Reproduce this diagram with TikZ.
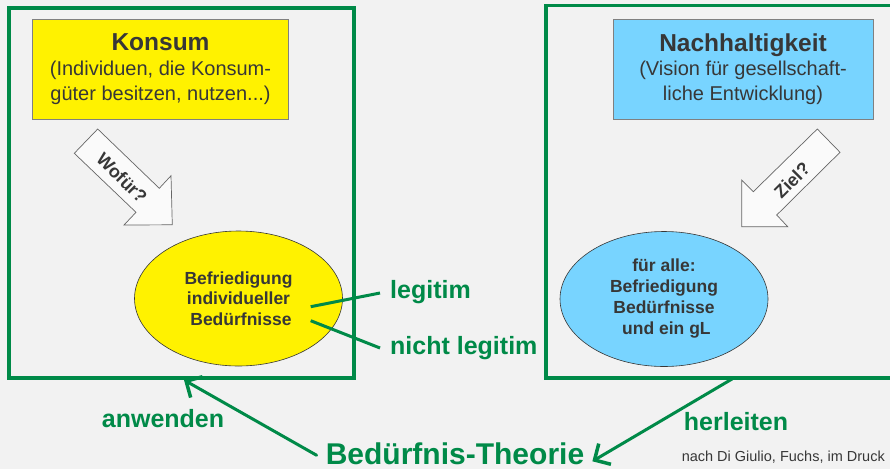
\documentclass[tikz,border=0pt]{standalone}
\usepackage{fontspec}
\setmainfont{Liberation Sans}
\usetikzlibrary{shapes.geometric,arrows.meta}
\definecolor{bggray}{RGB}{242,242,242}
\definecolor{frgreen}{RGB}{0,138,72}
\definecolor{txtgray}{RGB}{55,55,55}
\definecolor{skyblue}{RGB}{120,212,255}
\newcommand{\fsz}[2]{\fontsize{#1}{#2}\selectfont}
\tikzset{
  frame/.style={draw=frgreen, line width=3.5pt},
  topbox/.style={draw=gray, line width=0.8pt, minimum width=256pt, minimum height=100pt, inner sep=0pt, align=center, text=txtgray, font=\fsz{20}{24.7}},
  needell/.style={ellipse, draw=txtgray, line width=0.6pt, minimum width=208pt, minimum height=135pt, inner sep=0pt, align=center, text=txtgray, font=\bfseries\fsz{17.5}{20.5}},
  blockarrow/.style={draw=gray!80!black, line width=0.7pt, fill=bggray!40!white},
  arrowlabel/.style={text=txtgray, font=\bfseries\fsz{18}{20}, inner sep=1pt},
  greenlabel/.style={text=frgreen, font=\bfseries\fsz{25}{28}, inner sep=0pt},
  link/.style={draw=frgreen, line width=3pt},
  barb/.style={link, -{Straight Barb[length=12pt, width=24pt, line width=3.5pt]}, line cap=round}
}
\begin{document}
\begin{tikzpicture}[x=1pt, y=-1pt]
\fill[bggray] (0,0) rectangle (890,469);
\useasboundingbox (0,0) rectangle (890,469);
\draw[frame] (9,8) rectangle (354,378); % left frame
\draw[frame] (895,5.5) -- (546,5.5) -- (546,378) -- (895,378); % right frame
\node[topbox, fill=yellow] (konsum) at (160.5,69) {\textbf{\fsz{24.5}{25}Konsum}\\(Individuen, die Konsum-\\güter besitzen, nutzen...)};
\node[topbox, fill=skyblue, minimum width=260pt] (nachhalt) at (743,69) {\textbf{\fsz{24.5}{25}Nachhaltigkeit}\\(Vision für gesellschaft-\\liche Entwicklung)};
\draw[blockarrow] (97.7,129) -- (74.3,153.3) -- (136,212.3) -- (124,225) -- (172.3,224.8) -- (171,175.7) -- (159.3,188.3) -- cycle; % Wofür arrow
\node[arrowlabel, rotate=-45] (wofuer) at (122,178) {Wofür?};
\draw[blockarrow] (817.3,129) -- (840,152.3) -- (776.7,215) -- (787.7,226.7) -- (741.7,226.7) -- (741.7,180) -- (753.3,191.7) -- cycle; % Ziel arrow
\node[arrowlabel, rotate=45] (ziel) at (792,180) {Ziel?};
\node[needell, fill=yellow] (indiv) at (238.5,298.5) {Befriedigung\\individueller\\\ Bedürfnisse};
\node[needell, fill=skyblue, font=\bfseries\fsz{17.5}{21}] (alle) at (664,299) {für alle:\\Befriedigung\\Bedürfnisse\\\ und ein gL};
\node[greenlabel, anchor=west] (legit) at (390,292) {legitim};
\node[greenlabel, anchor=west] (nolegit) at (390,348) {nicht legitim};
\coordinate (legitend) at (310.7,306.7);
\coordinate (nolegitend) at (310.7,320.7);
\draw[link] (legitend) -- ([xshift=-10pt,yshift=-1pt]legit.west);
\draw[link] (nolegitend) -- ([xshift=-10pt]nolegit.west);
\node[text=frgreen, font=\bfseries\fsz{30}{32}, inner sep=0pt, anchor=base] (theorie) at (455,464) {Bedürfnis-Theorie};
\node[greenlabel] (anwenden) at (163,419) {anwenden};
\node[greenlabel] (herleiten) at (736,422) {herleiten};
\node[text=txtgray, font=\fsz{14.5}{16}, inner sep=0pt, anchor=east] (quelle) at (885,457) {nach Di Giulio, Fuchs, im Druck};
\coordinate (lboxfoot) at (184,380);
\coordinate (rboxfoot) at (732,379);
\draw[barb] ([xshift=-9pt,yshift=-2pt]theorie.west) -- (lboxfoot);
\draw[barb] (rboxfoot) -- ([xshift=8pt,yshift=-8pt]theorie.east);
\end{tikzpicture}
\end{document}
